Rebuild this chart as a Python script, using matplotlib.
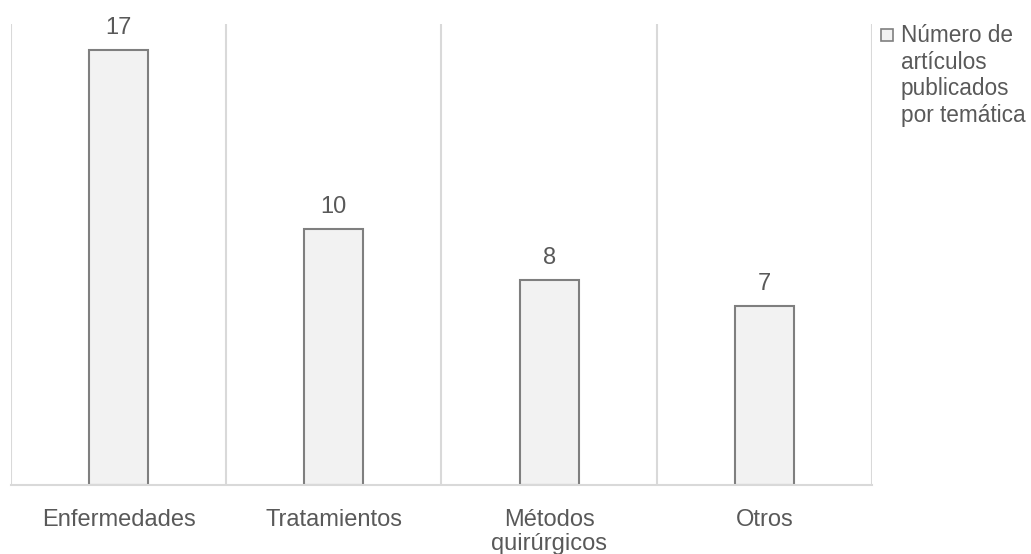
import matplotlib.pyplot as plt
from matplotlib.patches import Rectangle

# data
categories = ["Enfermedades", "Tratamientos", "Métodos\nquirúrgicos", "Otros"]
values = [17, 10, 8, 7]
legend_label = "Número de\nartículos\npublicados\npor temática"

plt.rcParams["font.family"] = ["Liberation Sans", "DejaVu Sans"]
text_col = "#595959"
grid_col = "#d9d9d9"

fig = plt.figure(figsize=(10.31, 5.54), dpi=100)
ax = fig.add_axes([11 / 1031, 1 - 485 / 554, (872 - 11) / 1031, (485 - 24) / 554])

x = range(len(categories))
bars = ax.bar(x, values, width=0.275, color="#f2f2f2", edgecolor="#7f7f7f",
              linewidth=1.5, zorder=3)

# value labels
for b, v in zip(bars, values):
    ax.annotate(str(v), (b.get_x() + b.get_width() / 2, v), xytext=(0, 8),
                textcoords="offset points", ha="center", va="bottom",
                fontsize=17, color=text_col)

# vertical lines between categories (Excel style)
for xv in [i - 0.5 for i in range(len(categories) + 1)]:
    ax.axvline(xv, color=grid_col, linewidth=1.5, zorder=1)

ax.set_xlim(-0.5, len(categories) - 0.5)
ax.set_ylim(0, 18)
ax.set_yticks([])
ax.set_xticks(list(x))
ax.set_xticklabels(categories, fontsize=17, color=text_col, linespacing=1.12)
ax.tick_params(axis="x", length=0, pad=17)
for s in ["top", "right", "left"]:
    ax.spines[s].set_visible(False)
ax.spines["bottom"].set_color(grid_col)
ax.spines["bottom"].set_linewidth(1.5)
ax.spines["bottom"].set_zorder(4)

# legend drawn by hand so the marker sits on the first line
fig.add_artist(Rectangle((881 / 1031, 1 - 41 / 554), 12 / 1031, 12 / 554,
                         transform=fig.transFigure, facecolor="#f2f2f2",
                         edgecolor="#7f7f7f", linewidth=1.2))
fig.text(901 / 1031, 1 - 24 / 554, legend_label, ha="left", va="top",
         fontsize=16.3, color=text_col, linespacing=1.2)

plt.savefig("out.png", dpi=100)
